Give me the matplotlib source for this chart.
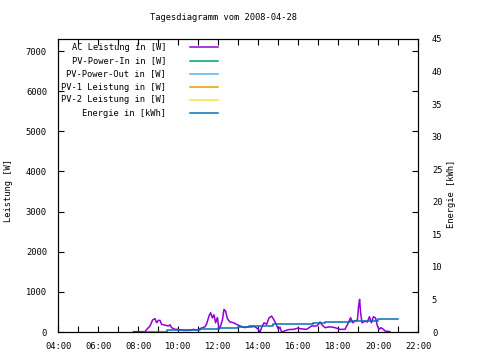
import matplotlib
matplotlib.use("Agg")
import matplotlib.pyplot as plt
from matplotlib.ticker import FixedLocator, FuncFormatter, MultipleLocator

title = "Tagesdiagramm vom 2008-04-28"
series_names = ["AC Leistung in [W]", "PV-Power-In in [W]", "PV-Power-Out in [W]",
                "PV-1 Leistung in [W]", "PV-2 Leistung in [W]", "Energie in [kWh]"]
series_colors = ["#9400d3", "#009e73", "#56b4e9", "#e69f00", "#f0e442", "#0072b2"]

# AC power (hours, W)
ac_time = [7.77, 8.35, 8.43, 8.6, 8.73, 8.85, 8.93, 9.02, 9.1, 9.18, 9.35, 9.52, 9.6, 9.68,
           9.85, 10.02, 10.27, 10.6, 10.77, 10.93, 11.18, 11.35, 11.43, 11.55, 11.63, 11.72,
           11.8, 11.88, 11.97, 12.05, 12.13, 12.22, 12.3, 12.38, 12.47, 12.6, 12.77, 12.93,
           13.1, 13.35, 13.6, 13.85, 14.02, 14.1, 14.18, 14.3, 14.43, 14.55, 14.68, 14.8,
           14.9, 15.02, 15.1, 15.18, 15.35, 15.52, 15.77, 16.02, 16.1, 16.43, 16.68, 16.93,
           17.02, 17.1, 17.18, 17.35, 17.6, 17.85, 18.1, 18.35, 18.52, 18.63, 18.73, 18.85,
           18.97, 19.03, 19.08, 19.13, 19.2, 19.35, 19.47, 19.57, 19.67, 19.77, 19.88, 19.97,
           20.05, 20.15, 20.27, 20.35, 20.6]
ac_power = [8, 8, 60, 150, 300, 332, 230, 290, 290, 190, 170, 150, 180, 108,
            66, 66, 40, 40, 66, 50, 100, 130, 200, 400, 480, 350,
            430, 230, 360, 66, 150, 300, 564, 520, 330, 250, 232, 190,
            150, 108, 150, 130, 66, 0, 110, 230, 190, 350, 396, 300,
            200, 66, 120, 0, 30, 60, 66, 100, 83, 66, 150, 150,
            190, 250, 190, 108, 130, 108, 66, 66, 232, 357, 230, 270,
            300, 650, 813, 480, 230, 270, 250, 380, 230, 380, 350, 150,
            66, 108, 66, 25, 8]

# Energy (hours, kWh)
en_time = [8.35, 9.43, 11.1, 12.02, 13.02, 13.68, 14.77, 16.77, 17.35, 18.6, 20.02, 21.02]
en_value = [0.05, 0.26, 0.41, 0.61, 0.82, 0.97, 1.22, 1.38, 1.53, 1.68, 2.04, 2.04]

x_ticks = [4, 6, 8, 10, 12, 14, 16, 18, 20, 22]
y_ticks = [0, 1000, 2000, 3000, 4000, 5000, 6000, 7000]
y2_ticks = [0, 5, 10, 15, 20, 25, 30, 35, 40, 45]

FONT = "DejaVu Sans Mono"
FS = 6.3

fig = plt.figure(figsize=(4.8, 3.6), dpi=100)
ax = fig.add_axes([58/480, 1-332/360, 360/480, 293/360])
ax2 = ax.twinx()

ax.plot(ac_time, ac_power, color=series_colors[0], lw=1.1)
ax2.plot(en_time, en_value, color=series_colors[5], lw=1.1, drawstyle="steps-post")

ax.set_xlim(4, 22)
ax.set_ylim(0, 7300)
ax2.set_ylim(0, 45)

ax.xaxis.set_major_locator(FixedLocator(x_ticks))
ax.xaxis.set_minor_locator(MultipleLocator(1))
ax.xaxis.set_major_formatter(FuncFormatter(lambda v, p: "%02d:00" % int(round(v))))
ax.yaxis.set_major_locator(FixedLocator(y_ticks))
ax2.yaxis.set_major_locator(FixedLocator(y2_ticks))

ax.tick_params(axis="both", which="both", direction="in", length=4, width=0.8,
               top=True, right=True, labelsize=FS)
ax.tick_params(axis="x", pad=7)
ax.tick_params(axis="y", pad=8)
ax2.tick_params(axis="y", length=0, labelsize=FS, pad=10)
for t in ax.get_xticklabels() + ax.get_yticklabels() + ax2.get_yticklabels():
    t.set_fontfamily(FONT)
for s in list(ax.spines.values()) + list(ax2.spines.values()):
    s.set_linewidth(0.8)

fig.text(224/480, 1-18/360, title, ha="center", va="center", fontsize=FS, family=FONT)
fig.text(9/480, 1-190/360, "Leistung [W]", rotation=90, ha="center", va="center",
         fontsize=FS, family=FONT)
fig.text(452/480, 1-194/360, "Energie [kWh]", rotation=90, ha="center", va="center",
         fontsize=FS, family=FONT)

# legend (gnuplot style: right-aligned text, sample line to the right)
rows_y = [47, 61, 74, 87, 100, 113]
for name, col, yy in zip(series_names, series_colors, rows_y):
    fig.text(166/480, 1-yy/360, name, ha="right", va="center", fontsize=FS, family=FONT)
    fig.add_artist(plt.Line2D([190/480, 218/480], [1-yy/360, 1-yy/360], color=col, lw=1.1))

fig.savefig("out.png", dpi=100)
